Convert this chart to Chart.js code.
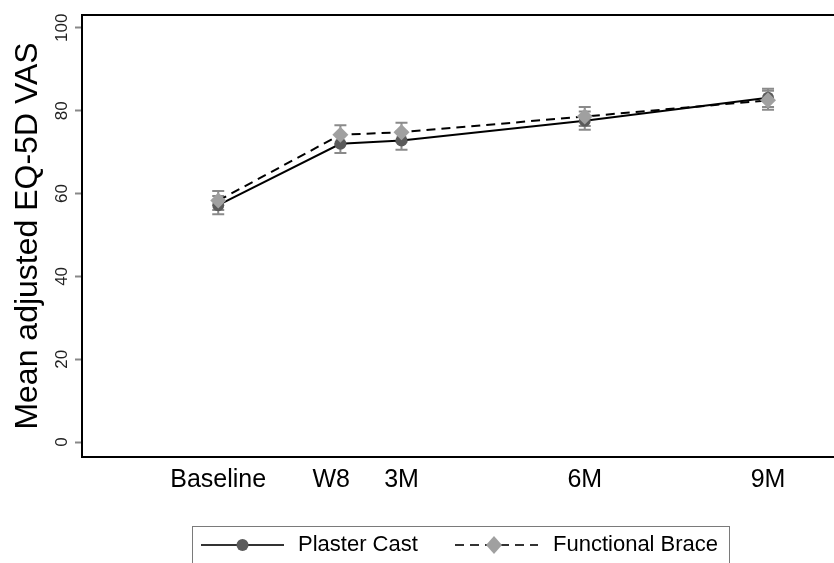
<!DOCTYPE html>
<html>
<head>
<meta charset="utf-8">
<script src="https://cdn.jsdelivr.net/npm/chart.js@4.4.1/dist/chart.umd.min.js"></script>
<style>
  html, body { margin: 0; padding: 0; background: #fff; overflow: hidden; }
  #wrap { width: 834px; height: 563px; position: relative; }
  #vasChart { display: block; }
</style>
</head>
<body>
<div id="wrap"><canvas id="vasChart"></canvas></div>
<script>
// visits (x in months)
const timeLabels = ['Baseline', 'W8', '3M', '6M', '9M'];
const tickPositions = [0, 1.85, 3, 6, 9];
const visitMonths = [0, 2, 3, 6, 9];
const yTicks = [0, 20, 40, 60, 80, 100];

// Plaster Cast
const plasterMean = [57.2, 72.0, 72.8, 77.6, 83.1];
const plasterLow = [55.0, 69.8, 70.6, 75.4, 80.9];
const plasterHigh = [59.4, 74.2, 75.0, 79.8, 85.3];

// Functional Brace
const braceMean = [58.3, 74.2, 74.8, 78.6, 82.5];
const braceLow = [56.0, 71.9, 72.5, 76.3, 80.2];
const braceHigh = [60.6, 76.5, 77.1, 80.9, 84.8];

const FONT = "'Liberation Sans', Arial, sans-serif";

const toPoints = (ys) => visitMonths.map((x, i) => ({ x: x, y: ys[i] }));

// CI whiskers, drawn under the markers
const errorBars = {
    id: 'errorBars',
    beforeDatasetsDraw(chart) {
        const { ctx, scales: { x, y } } = chart;
        const sets = [[plasterLow, plasterHigh], [braceLow, braceHigh]];
        ctx.save();
        ctx.strokeStyle = '#8a8a8a';
        ctx.lineWidth = 2;
        sets.forEach(([lo, hi]) => {
            visitMonths.forEach((m, i) => {
                const px = x.getPixelForValue(m);
                const y1 = y.getPixelForValue(lo[i]);
                const y2 = y.getPixelForValue(hi[i]);
                ctx.beginPath();
                ctx.moveTo(px, y1); ctx.lineTo(px, y2);
                ctx.moveTo(px - 6, y1); ctx.lineTo(px + 6, y1);
                ctx.moveTo(px - 6, y2); ctx.lineTo(px + 6, y2);
                ctx.stroke();
            });
        });
        ctx.restore();
    }
};

// top border, rotated y labels, legend box
const frameAndLegend = {
    id: 'frameAndLegend',
    afterDraw(chart) {
        const { ctx, chartArea, scales: { y } } = chart;
        ctx.save();
        ctx.strokeStyle = '#000';
        ctx.lineWidth = 2;
        ctx.beginPath();
        ctx.moveTo(chartArea.left - 1, chartArea.top);
        ctx.lineTo(chart.width, chartArea.top);
        ctx.stroke();

        // y tick labels, rotated
        ctx.fillStyle = '#222';
        ctx.font = '17px ' + FONT;
        ctx.textAlign = 'center';
        ctx.textBaseline = 'middle';
        yTicks.forEach(v => {
            ctx.save();
            ctx.translate(chartArea.left - 20, y.getPixelForValue(v));
            ctx.rotate(-Math.PI / 2);
            ctx.fillText(String(v), 0, 0);
            ctx.restore();
        });

        // legend
        const ly = 545;
        ctx.strokeStyle = '#7a7a7a';
        ctx.lineWidth = 1;
        ctx.strokeRect(192.5, 526.5, 537, 60);

        ctx.strokeStyle = '#333';
        ctx.lineWidth = 2;
        ctx.beginPath();
        ctx.moveTo(201, ly); ctx.lineTo(284, ly);
        ctx.stroke();
        ctx.fillStyle = '#5a5a5a';
        ctx.beginPath();
        ctx.arc(242.5, ly, 6, 0, Math.PI * 2);
        ctx.fill();

        ctx.strokeStyle = '#333';
        ctx.setLineDash([9, 6]);
        ctx.beginPath();
        ctx.moveTo(455, ly); ctx.lineTo(538, ly);
        ctx.stroke();
        ctx.setLineDash([]);
        ctx.fillStyle = '#a0a0a0';
        ctx.beginPath();
        ctx.moveTo(494, ly - 9); ctx.lineTo(502, ly);
        ctx.lineTo(494, ly + 9); ctx.lineTo(486, ly);
        ctx.closePath();
        ctx.fill();

        ctx.fillStyle = '#000';
        ctx.font = '22px ' + FONT;
        ctx.textAlign = 'left';
        ctx.fillText('Plaster Cast', 298, ly);
        ctx.fillText('Functional Brace', 553, ly);
        ctx.restore();
    }
};

new Chart(document.getElementById('vasChart'), {
    type: 'line',
    data: {
        datasets: [
            {
                label: 'Plaster Cast',
                data: toPoints(plasterMean),
                borderColor: '#000',
                borderWidth: 2,
                pointStyle: 'circle',
                pointRadius: 6,
                pointBackgroundColor: '#5a5a5a',
                pointBorderWidth: 0,
                order: 1,
                tension: 0
            },
            {
                label: 'Functional Brace',
                data: toPoints(braceMean),
                borderColor: '#000',
                borderWidth: 2,
                borderDash: [9, 6],
                pointStyle: 'rectRot',
                pointRadius: 8,
                pointBackgroundColor: '#a0a0a0',
                pointBorderWidth: 0,
                order: 0,
                tension: 0
            }
        ]
    },
    options: {
        responsive: true,
        maintainAspectRatio: false,
        animation: false,
        layout: {
            autoPadding: false,
            padding: { top: 15, right: 0, left: 0, bottom: 0 }
        },
        plugins: {
            legend: { display: false },
            tooltip: { enabled: false }
        },
        scales: {
            x: {
                type: 'linear',
                min: -2.23,
                max: 10.08,
                afterBuildTicks: (axis) => { axis.ticks = tickPositions.map(v => ({ value: v })); },
                afterFit: (axis) => { axis.height = 106; },
                grid: { display: false, drawTicks: false },
                border: { display: true, color: '#000', width: 2 },
                ticks: {
                    autoSkip: false,
                    maxRotation: 0,
                    padding: 8,
                    color: '#000',
                    font: { family: FONT, size: 25 },
                    callback: (v) => {
                        const i = tickPositions.indexOf(v);
                        return i >= 0 ? timeLabels[i] : '';
                    }
                }
            },
            y: {
                min: -3.6,
                max: 103.1,
                afterBuildTicks: (axis) => { axis.ticks = yTicks.map(v => ({ value: v })); },
                afterFit: (axis) => { axis.width = 82; },
                grid: {
                    drawOnChartArea: false,
                    drawTicks: true,
                    tickLength: 7,
                    tickColor: '#888',
                    tickWidth: 2
                },
                border: { display: true, color: '#000', width: 2 },
                ticks: {
                    color: 'rgba(0,0,0,0)',
                    font: { family: FONT, size: 17 }
                },
                title: {
                    display: true,
                    text: 'Mean adjusted EQ-5D VAS',
                    color: '#000',
                    font: { family: FONT, size: 32 },
                    padding: { top: 9, bottom: 0 }
                }
            }
        }
    },
    plugins: [errorBars, frameAndLegend]
});
</script>
</body>
</html>
